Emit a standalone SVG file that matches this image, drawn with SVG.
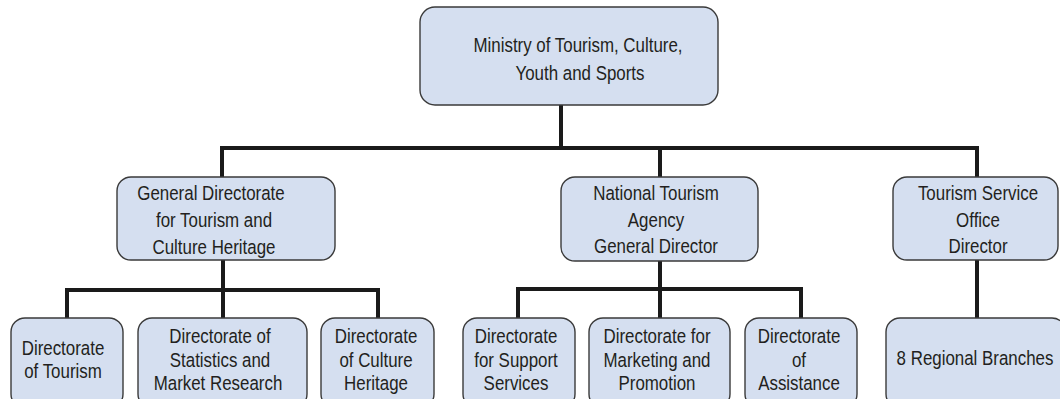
<svg xmlns="http://www.w3.org/2000/svg" width="1060" height="399" viewBox="0 0 1060 399">
<style>
.box{fill:#d5dff0;stroke:#3a3a3a;stroke-width:1.4}
.t{font-family:"Liberation Sans",Arial,sans-serif;font-size:19.5px;fill:#231f20;text-anchor:middle}
.c{fill:none;stroke:#1a1a1a;stroke-width:4;stroke-linejoin:miter;stroke-linecap:square}
</style>
<rect width="1060" height="399" fill="#ffffff"/>
<g id="connectors">
<path class="c" d="M561 106 V148"/>
<path class="c" d="M222 176 V148 H977 V176"/>
<path class="c" d="M660 148 V176"/>
<path class="c" d="M223 261 V289"/>
<path class="c" d="M67 317 V290 H378 V317"/>
<path class="c" d="M223 290 V317"/>
<path class="c" d="M660 262 V289"/>
<path class="c" d="M518 317 V289 H801 V317"/>
<path class="c" d="M660 289 V317"/>
<path class="c" d="M977 261 V317"/>
</g>
<g id="ministry">
<rect class="box" x="420" y="7" width="298" height="98" rx="15"/>
<text class="t" transform="translate(578 52) scale(.867 1)">Ministry of Tourism, Culture,</text>
<text class="t" transform="translate(580 80) scale(.867 1)">Youth and Sports</text>
</g>
<g id="general-directorate">
<rect class="box" x="117" y="177" width="218" height="83" rx="14"/>
<text class="t" transform="translate(211 200) scale(.867 1)">General Directorate</text>
<text class="t" transform="translate(214 227) scale(.867 1)">for Tourism and</text>
<text class="t" transform="translate(214 254) scale(.867 1)">Culture Heritage</text>
</g>
<g id="national-tourism-agency">
<rect class="box" x="561" y="177" width="197" height="84" rx="14"/>
<text class="t" transform="translate(656 200) scale(.867 1)">National Tourism</text>
<text class="t" transform="translate(656 227) scale(.867 1)">Agency</text>
<text class="t" transform="translate(656 253) scale(.867 1)">General Director</text>
</g>
<g id="tourism-service-office">
<rect class="box" x="893" y="177" width="165" height="83" rx="14"/>
<text class="t" transform="translate(978 200) scale(.867 1)">Tourism Service</text>
<text class="t" transform="translate(978 227) scale(.867 1)">Office</text>
<text class="t" transform="translate(978 253) scale(.867 1)">Director</text>
</g>
<g id="dir-tourism">
<rect class="box" x="11" y="318" width="112" height="90" rx="14"/>
<text class="t" transform="translate(63 355) scale(.867 1)">Directorate</text>
<text class="t" transform="translate(63 378) scale(.867 1)">of Tourism</text>
</g>
<g id="dir-statistics">
<rect class="box" x="138" y="318" width="169" height="90" rx="14"/>
<text class="t" transform="translate(220 343) scale(.867 1)">Directorate of</text>
<text class="t" transform="translate(220 367) scale(.867 1)">Statistics and</text>
<text class="t" transform="translate(218 390) scale(.867 1)">Market Research</text>
</g>
<g id="dir-culture-heritage">
<rect class="box" x="321" y="318" width="113" height="90" rx="14"/>
<text class="t" transform="translate(376 343) scale(.867 1)">Directorate</text>
<text class="t" transform="translate(376 367) scale(.867 1)">of Culture</text>
<text class="t" transform="translate(376 390) scale(.867 1)">Heritage</text>
</g>
<g id="dir-support">
<rect class="box" x="463" y="318" width="112" height="90" rx="14"/>
<text class="t" transform="translate(516 343) scale(.867 1)">Directorate</text>
<text class="t" transform="translate(516 367) scale(.867 1)">for Support</text>
<text class="t" transform="translate(516 390) scale(.867 1)">Services</text>
</g>
<g id="dir-marketing">
<rect class="box" x="589" y="318" width="141" height="90" rx="14"/>
<text class="t" transform="translate(657 343) scale(.867 1)">Directorate for</text>
<text class="t" transform="translate(657 367) scale(.867 1)">Marketing and</text>
<text class="t" transform="translate(657 390) scale(.867 1)">Promotion</text>
</g>
<g id="dir-assistance">
<rect class="box" x="745" y="318" width="112" height="90" rx="14"/>
<text class="t" transform="translate(799 343) scale(.867 1)">Directorate</text>
<text class="t" transform="translate(799 367) scale(.867 1)">of</text>
<text class="t" transform="translate(799 390) scale(.867 1)">Assistance</text>
</g>
<g id="regional-branches">
<rect class="box" x="886" y="318" width="180" height="90" rx="14"/>
<text class="t" transform="translate(975 365) scale(.867 1)">8 Regional Branches</text>
</g>
</svg>
